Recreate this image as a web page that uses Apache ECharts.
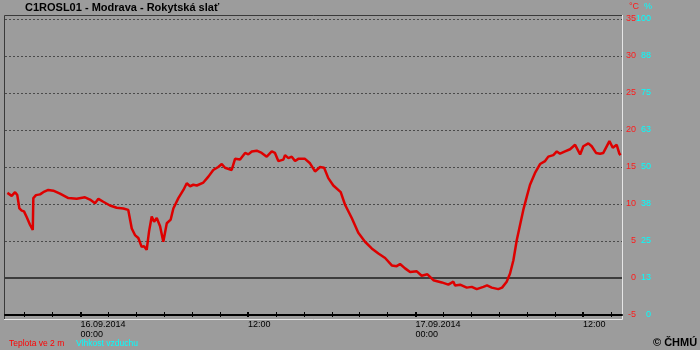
<!DOCTYPE html>
<html><head><meta charset="utf-8">
<script src="https://cdn.jsdelivr.net/npm/echarts@6/dist/echarts.min.js"></script>
<style>html,body{margin:0;padding:0;background:#9c9c9c}#c{width:700px;height:350px}</style>
</head><body><div id="c"></div><script>
// time in hours relative to 16.09.2014 00:00
const hours = [-5.24,-4.93,-4.69,-4.53,-4.38,-4.21,-4.05,-3.85,-3.62,-3.42,-3.38,-3.19,-2.90,-2.67,-2.31,-1.95,-1.47,-0.87,-0.27,0.32,0.68,1.04,1.28,1.63,2.11,2.59,3.07,3.42,3.50,3.67,3.90,4.14,4.38,4.55,4.74,4.91,5.10,5.27,5.46,5.70,5.93,6.18,6.46,6.65,7.01,7.37,7.61,7.85,8.08,8.33,8.80,9.16,9.51,9.87,10.12,10.35,10.83,11.07,11.43,11.79,12.02,12.27,12.62,12.98,13.34,13.70,13.93,14.17,14.53,14.65,14.89,15.13,15.37,15.60,16.08,16.44,16.80,17.16,17.45,17.75,18.11,18.64,18.95,19.43,19.90,20.38,20.86,21.34,21.82,22.30,22.65,22.89,23.25,23.61,24.09,24.44,24.85,25.28,25.88,26.35,26.71,26.83,27.19,27.67,28.03,28.38,28.86,29.12,29.46,29.93,30.20,30.53,30.77,31.01,31.25,31.49,31.72,31.97,32.20,32.56,32.92,33.28,33.51,33.87,34.12,34.35,34.71,35.07,35.43,35.79,36.02,36.38,36.62,36.93,37.22,37.45,37.89,38.13,38.41,38.60,38.69];
const temperature = [11.5,11.1,11.6,11.2,9.4,9.1,9.0,8.2,7.2,6.5,10.8,11.2,11.3,11.6,11.9,11.8,11.4,10.8,10.7,10.9,10.6,10.1,10.7,10.3,9.8,9.5,9.4,9.2,9.0,6.7,5.8,5.4,4.2,4.3,3.8,6.3,8.3,7.6,8.1,7.0,4.9,7.4,7.9,9.4,10.8,11.9,12.8,12.4,12.6,12.5,12.9,13.7,14.6,15.0,15.4,14.9,14.6,16.1,16.0,16.9,16.7,17.1,17.2,16.9,16.4,17.1,16.9,15.8,16.0,16.6,16.2,16.4,15.8,16.1,16.1,15.5,14.4,15.0,14.9,13.5,12.5,11.6,9.9,8.1,6.1,4.9,4.0,3.3,2.7,1.7,1.6,1.9,1.3,0.8,0.9,0.3,0.5,-0.3,-0.6,-0.9,-0.5,-1.0,-0.9,-1.3,-1.2,-1.5,-1.2,-1.0,-1.3,-1.5,-1.3,-0.5,0.6,2.4,5.1,7.2,9.2,11.0,12.6,14.2,15.4,15.8,16.4,16.6,17.1,16.8,17.1,17.4,18.0,16.7,17.8,18.2,17.8,16.9,16.8,16.9,18.5,17.6,18.0,16.8,16.6];
const humidity = [];
const minorTickHours = [-4,-2,0,2,4,6,8,10,12,14,16,18,20,22,24,26,28,30,32,34,36,38];
const majorTickHours = [0,12,24,36];
const majorTickLabels = ['16.09.2014\n00:00','12:00','17.09.2014\n00:00','12:00'];
const tempTicks = [-5,0,5,10,15,20,25,30,35];
const humidityTicks = [0,12.5,25,37.5,50,62.5,75,87.5,100];

const FONT = 'Liberation Sans, Arial, sans-serif';
const chart = echarts.init(document.getElementById('c'), null, {renderer:'canvas'});
const xMin = -5.41, xMax = 38.79;
const baseX = {type:'value', min:xMin, max:xMax, position:'bottom', gridIndex:0,
  splitLine:{show:false}, axisLabel:{show:false}, axisLine:{show:false, onZero:false}, axisTick:{show:false}};
chart.setOption({
  backgroundColor:'#9c9c9c',
  animation:false,
  grid:{left:5, right:78, top:19, bottom:35},
  graphic:[
    {type:'polyline', shape:{points:[[4.5,319],[4.5,15.5],[622,15.5]]}, style:{stroke:'#3a3a3a', lineWidth:1, fill:null}, z:0},
    {type:'polyline', shape:{points:[[622.5,15],[622.5,319.5],[4,319.5]]}, style:{stroke:'#e6e6e6', lineWidth:1, fill:null}, z:0},
    {type:'text', left:25, top:2, style:{text:'C1ROSL01 - Modrava - Rokytská slať', font:'bold 11px '+FONT, fill:'#000'}},
    {type:'text', left:629, top:2, style:{text:'°C', font:'9px '+FONT, fill:'#ff1a1a'}},
    {type:'text', left:644, top:2, style:{text:'%', font:'9px '+FONT, fill:'#00ffff'}},
    {type:'text', left:9, top:339, style:{text:'Teplota ve 2 m', font:'8.5px '+FONT, fill:'#ff0000'}},
    {type:'text', left:76, top:339, style:{text:'Vlhkost vzduchu', font:'8.5px '+FONT, fill:'#00ffff'}},
    {type:'text', left:653, top:337, style:{text:'© ČHMÚ', font:'bold 11px '+FONT, fill:'#000'}}
  ],
  xAxis:[
    Object.assign({}, baseX, {
      axisLine:{show:true, onZero:false, lineStyle:{color:'#000', width:2}},
      axisLabel:{show:true, customValues:majorTickHours, color:'#000', fontSize:9, fontFamily:FONT,
        align:'left', margin:5, lineHeight:10,
        formatter:function(v){const i=majorTickHours.indexOf(Math.round(v)); return i>=0?majorTickLabels[i]:'';}}
    }),
    Object.assign({}, baseX, {offset:2,
      axisTick:{show:true, inside:true, length:5, customValues:minorTickHours, lineStyle:{color:'#000', width:1}}}),
    Object.assign({}, baseX, {offset:2,
      axisTick:{show:true, inside:true, length:5, customValues:majorTickHours, lineStyle:{color:'#000', width:2}}})
  ],
  yAxis:[
    {type:'value', position:'right', min:-5, max:35, interval:5,
      axisLine:{show:false}, axisTick:{show:false},
      axisLabel:{color:'#ff1a1a', fontSize:9, fontFamily:FONT, align:'right', margin:14},
      splitLine:{show:true, lineStyle:{color:'#4a4a4a', width:1, type:[2,2]}}},
    {type:'value', position:'right', min:0, max:100, interval:12.5,
      axisLine:{show:false}, axisTick:{show:false}, splitLine:{show:false},
      axisLabel:{color:'#00ffff', fontSize:9, fontFamily:FONT, align:'right', margin:29,
        formatter:function(v){return String(Math.round(v));}}}
  ],
  series:[
    {name:'Teplota ve 2 m', type:'line', xAxisIndex:0, yAxisIndex:0, showSymbol:false, symbol:'none',
      data:hours.map((h,i)=>[h, temperature[i]]),
      lineStyle:{color:'#dd0000', width:2.5}, itemStyle:{color:'#dd0000'}, z:5,
      markLine:{silent:true, symbol:'none', label:{show:false}, data:[{yAxis:0}],
        lineStyle:{color:'#3c3c3c', width:2, type:'solid'}}},
    {name:'Vlhkost vzduchu', type:'line', xAxisIndex:0, yAxisIndex:1, showSymbol:false,
      data:humidity, lineStyle:{color:'#00ffff', width:2}}
  ]
});
</script></body></html>
